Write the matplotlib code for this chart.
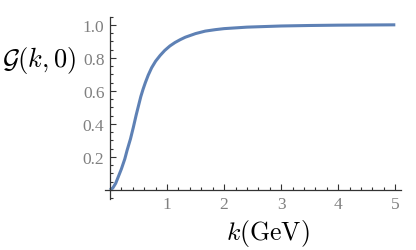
import matplotlib
matplotlib.use('Agg')
import matplotlib.pyplot as plt
from matplotlib.ticker import MultipleLocator

# values
k_vals = [0, 0.05, 0.10, 0.13, 0.20, 0.26, 0.30, 0.36, 0.41, 0.46, 0.50, 0.54, 0.58,
          0.62, 0.67, 0.73, 0.80, 0.88, 0.96, 1.05, 1.14, 1.23, 1.32, 1.50, 1.67,
          1.85, 2.0, 2.4, 3.0, 3.5, 4.0, 5.0]
g_vals = [0, 0.012, 0.040, 0.066, 0.127, 0.188, 0.240, 0.31, 0.38, 0.455, 0.51, 0.565,
          0.61, 0.65, 0.695, 0.74, 0.78, 0.815, 0.845, 0.872, 0.893, 0.91, 0.925,
          0.947, 0.962, 0.971, 0.977, 0.986, 0.993, 0.996, 0.998, 1.0]
x_ticks = [1, 2, 3, 4, 5]
y_ticks = [0.2, 0.4, 0.6, 0.8, 1.0]

plt.rcParams['mathtext.fontset'] = 'cm'
plt.rcParams['font.family'] = 'Liberation Serif'

fig = plt.figure(figsize=(4.16, 2.51), dpi=100)
ax = fig.add_axes([0.252, 0.203, 0.712, 0.727])

ax.plot(k_vals, g_vals, color='#5E81B5', linewidth=2.2, solid_capstyle='butt',
        solid_joinstyle='round')

ax.set_xlim(-0.09, 5.1)
ax.set_ylim(-0.055, 1.05)

for side in ['top', 'right']:
    ax.spines[side].set_visible(False)
for side in ['left', 'bottom']:
    ax.spines[side].set_position(('data', 0))
    ax.spines[side].set_color('#333333')
    ax.spines[side].set_linewidth(0.9)

ax.set_xticks(x_ticks)
ax.set_yticks(y_ticks)
ax.set_yticklabels([f'{v:.1f}' for v in y_ticks])
ax.xaxis.set_minor_locator(MultipleLocator(0.2))
ax.yaxis.set_minor_locator(MultipleLocator(0.05))
ax.tick_params(which='both', direction='in', color='#333333', width=0.8,
               labelsize=12.5, labelcolor='#808080')
ax.tick_params(which='major', length=4, pad=4)
ax.tick_params(which='minor', length=2)

fig.text(0.005, 0.76, r'$\mathcal{G}(k,0)$', fontsize=19, ha='left', va='center')
fig.text(0.645, 0.07, r'$k(\mathrm{GeV})$', fontsize=18.5, ha='center', va='center')

plt.savefig('out.png', dpi=100)
plt.close()
